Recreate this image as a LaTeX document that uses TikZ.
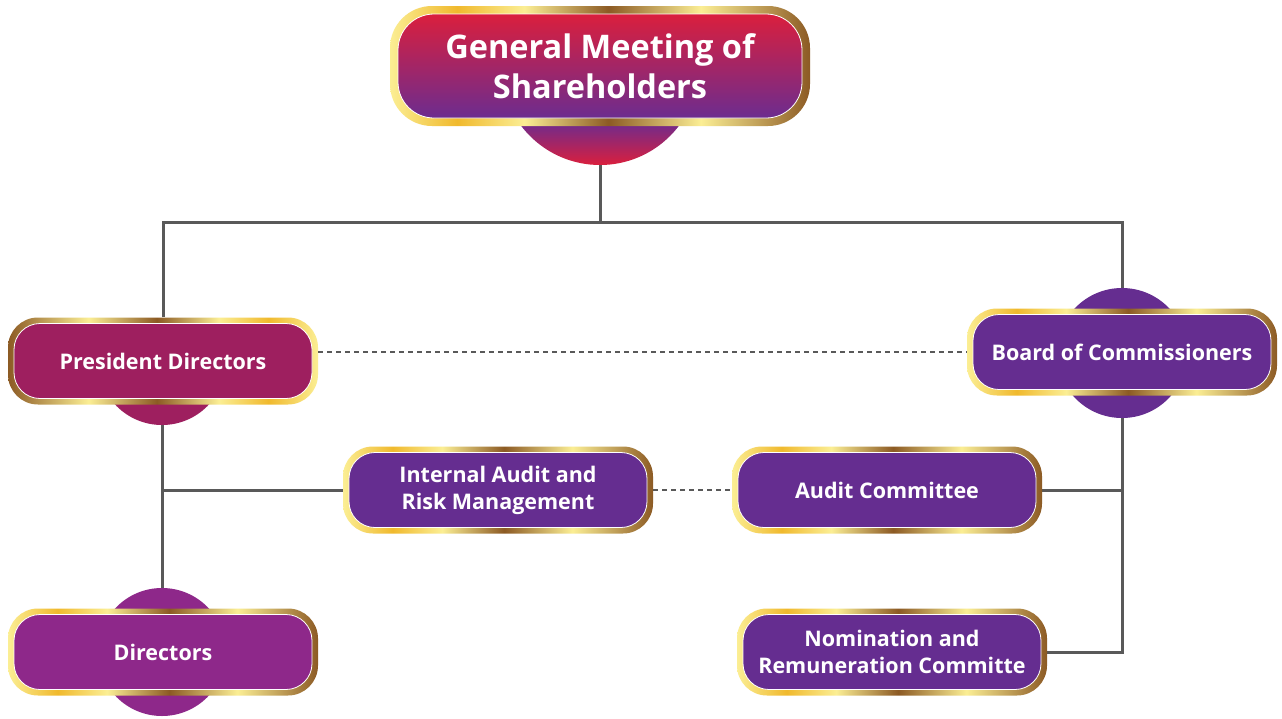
\documentclass[tikz,border=0pt]{standalone}
\usepackage{fontspec}
\setmainfont{Open Sans}
\usetikzlibrary{backgrounds}
\definecolor{gred}{HTML}{DA1F3D}
\definecolor{gpurp}{HTML}{6C2C8F}
\definecolor{pdcol}{HTML}{9E1F5F}
\definecolor{vio}{HTML}{652D90}
\definecolor{dircol}{HTML}{8E288A}
\definecolor{lineg}{HTML}{595959}
\definecolor{gpale}{HTML}{FBEE94}
\definecolor{ggold}{HTML}{F0B92D}
\definecolor{gbrown}{HTML}{8C5A24}
\pgfdeclarehorizontalshading{goldA}{100bp}{color(0bp)=(gpale); color(25bp)=(gpale); color(33bp)=(ggold); color(41bp)=(gpale); color(51bp)=(gbrown); color(62bp)=(gpale); color(75bp)=(gbrown); color(100bp)=(gbrown)}
\pgfdeclarehorizontalshading{goldB}{100bp}{color(0bp)=(gbrown); color(25bp)=(gbrown); color(38bp)=(gpale); color(49bp)=(gbrown); color(59bp)=(gpale); color(67bp)=(ggold); color(75bp)=(gpale); color(100bp)=(gpale)}
\pgfdeclareverticalshading{gmsdisc}{100bp}{color(0bp)=(gred); color(25bp)=(gred); color(36bp)=(gpurp); color(100bp)=(gpurp)}
\begin{document}
\begin{tikzpicture}[x=1pt,y=-1pt,
  conn/.style={draw=lineg, line width=3pt},
  dconn/.style={draw=lineg, line width=2.5pt, dash pattern=on 5pt off 4pt},
  frame/.style={rectangle, rounded corners=30pt, minimum width=310pt, minimum height=87pt, inner sep=0pt},
  face/.style={rectangle, rounded corners=26pt, draw=white, line width=0.8pt, minimum width=298pt, minimum height=75pt, text=white, font=\bfseries\fontsize{21.5}{27}\selectfont, align=center, inner sep=0pt},
  disc/.style={circle, minimum size=128pt, inner sep=0pt}]
\useasboundingbox (0,0) rectangle (1282,718);

% discs behind boxes
\begin{scope}
\clip (380,20) rectangle (820,200);
\node[circle, minimum size=198pt, inner sep=0pt, shading=gmsdisc] (gmsc) at (600,66) {};
\end{scope}
\begin{scope}
\clip (0,361) rectangle (330,440);
\node[disc, fill=pdcol] (pdc) at (162,361) {};
\end{scope}
\node[disc, fill=vio, minimum size=130pt] (bcc) at (1122,353) {};
\node[disc, fill=dircol] (dcc) at (162,652) {};

% General Meeting
\node[rectangle, rounded corners=42pt, minimum width=420pt, minimum height=120pt, inner sep=0pt, shading=goldA] (gms) at (600,66) {};
\node[rectangle, rounded corners=36pt, minimum width=404pt, minimum height=104pt, inner sep=0pt, top color=gred, bottom color=gpurp, draw=white, line width=0.8pt, text=white, font=\bfseries\fontsize{32.5}{40}\selectfont, align=center] (gmsf) at (600,66) {General Meeting of\\Shareholders};

% President Directors
\node[frame, shading=goldB] (pd) at (163,361) {};
\node[face, fill=pdcol] (pdf) at (163,361) {President Directors};

% Board of Commissioners
\node[frame, shading=goldA] (bc) at (1122,352) {};
\node[face, fill=vio] (bcf) at (1122,352) {Board of Commissioners};

% Internal Audit
\node[frame, shading=goldA] (ia) at (498,490) {};
\node[face, fill=vio] (iaf) at (498,490) {Internal Audit and\\Risk Management};

% Audit Committee
\node[frame, shading=goldA] (ac) at (887,490) {};
\node[face, fill=vio] (acf) at (887,490) {Audit Committee};

% Directors
\node[frame, shading=goldA] (dir) at (163,652) {};
\node[face, fill=dircol] (dirf) at (163,652) {Directors};

% Nomination
\node[frame, shading=goldA] (nr) at (892,652) {};
\node[face, fill=vio] (nrf) at (892,652) {Nomination and\\Remuneration Committe};

\begin{pgfonlayer}{background}
\fill[white] (0,0) rectangle (1282,718);
\coordinate (jt) at (600,222);
\draw[conn] (gmsc.south) -- (jt);
\draw[conn] (pd.north) |- (jt) -| (bcc.north);
\draw[conn] (pdc.south) -- (dcc.north);
\draw[conn] (ia.west) -- (ia.west -| pdc.south);
\draw[conn] (nr.east) -| (bcc.south);
\draw[conn] (ac.east) -- (ac.east -| bcc.south);
\end{pgfonlayer}
\draw[dconn] (pd.east |- bc.west) -- (bc.west);
\draw[dconn] (ia.east) -- (ac.west);
\end{tikzpicture}
\end{document}
